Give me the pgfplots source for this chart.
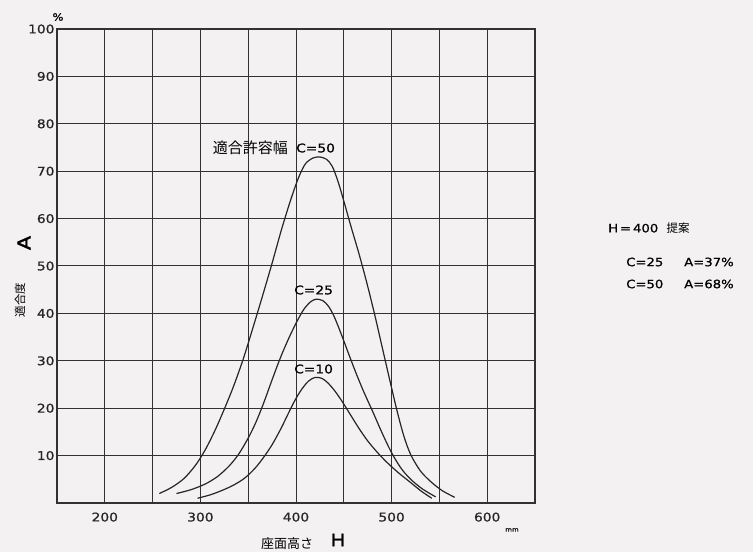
\documentclass[border=0pt]{standalone}
\usepackage{pgfplots}
\pgfplotsset{compat=1.18}
\usepackage{fontspec}
\setmainfont{DejaVu Sans}[FakeStretch=1.15,FakeBold=0.8]
\newfontfamily\heavy{DejaVu Sans}[FakeStretch=1.15,FakeBold=2]
\newfontfamily\jp{Noto Sans CJK JP}
\definecolor{bg}{RGB}{243,241,242}
\definecolor{gridc}{RGB}{50,50,50}
\begin{document}
\begin{tikzpicture}[x=1pt,y=1pt]
\fill[bg] (-57,-49) rectangle (696,503);
\useasboundingbox (-57,-49) rectangle (696,503);
\begin{axis}[at={(0,0)},anchor=south west, scale only axis, width=478pt, height=474pt,
 xmin=150,xmax=650,ymin=0,ymax=100,
 xtick={200,300,400,500,600}, minor xtick={250,350,450,550},
 ytick={10,20,...,100},
 grid=both, major grid style={gridc,line width=1pt}, minor grid style={gridc,line width=1pt},
 axis line style={gridc,line width=1.1pt},
 major tick length=0pt, minor tick length=0pt,
 tick label style={font=\fontsize{12}{14}\selectfont, text=black!85},
 /pgf/number format/assume math mode=true,
 /pgf/number format/1000 sep={},
 xticklabel style={yshift=-6pt},
 yticklabel style={xshift=1pt},
]
% C=50
\addplot[smooth, line width=1.2pt, black!85] coordinates {
(257,2.0) (270,3.3) (283,5.2) (295,8.0) (305,11.2) (315,15.2) (325,19.8) (335,24.8) (345,30.5) (355,37) (365,43.7) (375,50.6) (385,57.8) (395,64.3) (403,68.8) (410,71.6) (418,72.8) (425,73) (432,72.5) (438,71) (444,67.8) (450,63.7) (458,58) (466,52.5) (474,46.5) (482,40) (490,33) (498,26) (506,19.2) (513,14) (520,10.2) (530,6.8) (541,4.5) (553,2.6) (566,1.2)};
% C=25
\addplot[smooth, line width=1.2pt, black!85] coordinates {
(275,2.0) (290,2.8) (305,4.0) (318,5.6) (330,7.8) (340,10.3) (350,13.7) (358,17) (366,21) (375,26) (384,30.8) (393,35) (401,38.3) (408,40.8) (415,42.4) (421,43) (428,42.7) (434,41.5) (440,39.3) (447,35.8) (455,31.5) (463,27.3) (471,23.4) (480,19.4) (490,14.8) (500,10.6) (510,7.3) (520,5) (532,3) (546,1.3)};
% C=10
\addplot[smooth, line width=1.2pt, black!85] coordinates {
(297,1.0) (310,1.7) (322,2.6) (334,3.7) (346,5.2) (357,7.3) (366,9.6) (375,12.3) (384,15.6) (392,18.9) (399,21.7) (406,24) (413,25.7) (420,26.5) (427,26.3) (433,25.4) (440,23.8) (448,21.5) (457,18.6) (466,15.7) (475,13.1) (485,10.7) (495,8.6) (507,6.4) (520,4.3) (531,2.5) (542,1.0)};
\end{axis}
\node at (1,486) {\fontsize{10}{11}\selectfont\%};
\node[rotate=90] at (-37,203) {\jp\fontsize{11.5}{12}\selectfont 適合度};
\node[rotate=90] at (-33,260) {\heavy\fontsize{18}{20}\selectfont A};
\node at (230,-41) {\jp\fontsize{13}{14}\selectfont 座面高さ};
\node at (281,-37) {\heavy\fontsize{17}{19}\selectfont H};
\node at (455,-27) {\fontsize{6}{7}\selectfont mm};
\node[anchor=east,inner sep=1pt] at (232,355) {\jp\fontsize{15}{16}\selectfont 適合許容幅};
\node[anchor=west,inner sep=1pt] at (238,355) {\fontsize{12}{13}\selectfont C=50};
\node[anchor=west,inner sep=1pt] at (236,213) {\fontsize{12}{13}\selectfont C=25};
\node[anchor=west,inner sep=1pt] at (236,134) {\fontsize{12}{13}\selectfont C=10};
\node[anchor=west,inner sep=1pt] at (550,275) {\fontsize{11.5}{13}\selectfont H\,=\,400\ \ {\jp 提案}};
\node[anchor=west,inner sep=1pt] at (568,241) {\fontsize{11.5}{13}\selectfont C=25};
\node[anchor=west,inner sep=1pt] at (626,241) {\fontsize{11.5}{13}\selectfont A=37\%};
\node[anchor=west,inner sep=1pt] at (568,219) {\fontsize{11.5}{13}\selectfont C=50};
\node[anchor=west,inner sep=1pt] at (626,219) {\fontsize{11.5}{13}\selectfont A=68\%};
\end{tikzpicture}
\end{document}
